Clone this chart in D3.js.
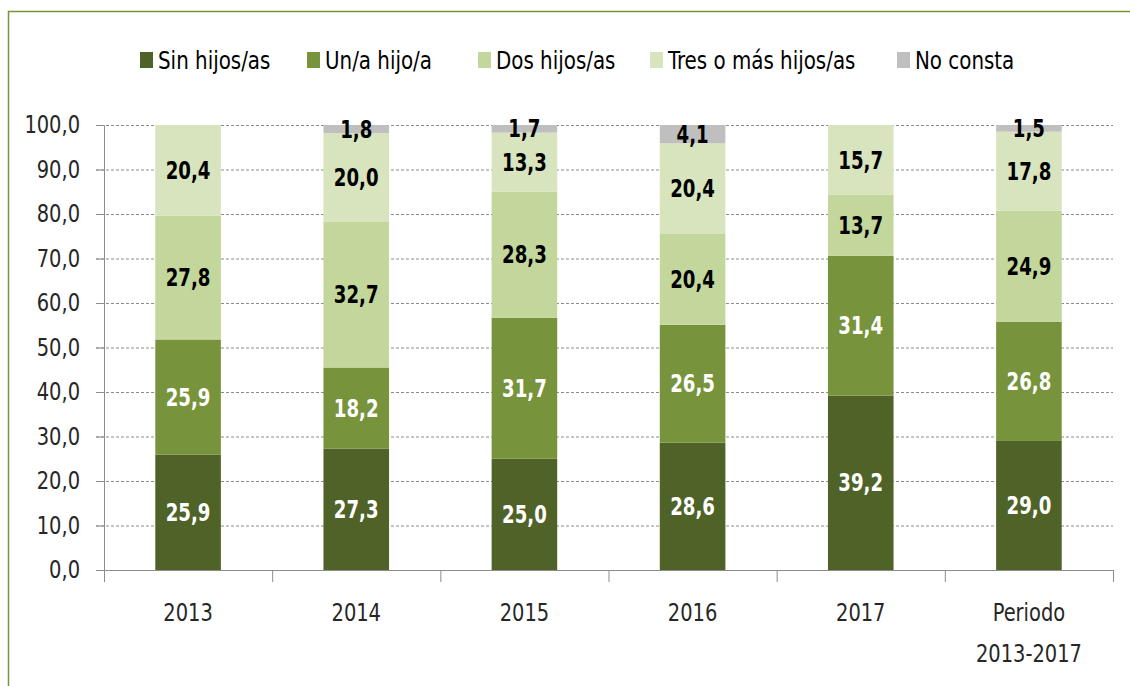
<!DOCTYPE html>
<html>
<head>
<meta charset="utf-8">
<script src="https://cdn.jsdelivr.net/npm/d3@7"></script>
<style>
  body { margin: 0; background: #fff; }
  svg { display: block; font-family: "DejaVu Sans Condensed", "DejaVu Sans", sans-serif; }
</style>
</head>
<body>
<svg width="1130" height="686"></svg>
<script>
const categories = ["2013", "2014", "2015", "2016", "2017", "Periodo\n2013-2017"];
const seriesNames = ["Sin hijos/as", "Un/a hijo/a", "Dos hijos/as", "Tres o más hijos/as", "No consta"];
const sinHijos = [25.9, 27.3, 25.0, 28.6, 39.2, 29.0];
const unHijo = [25.9, 18.2, 31.7, 26.5, 31.4, 26.8];
const dosHijos = [27.8, 32.7, 28.3, 20.4, 13.7, 24.9];
const tresMas = [20.4, 20.0, 13.3, 20.4, 15.7, 17.8];
const noConsta = [0, 1.8, 1.7, 4.1, 0, 1.5];
const yTicks = [0, 10, 20, 30, 40, 50, 60, 70, 80, 90, 100];

const colors = ["#4f6228", "#77933c", "#c3d69b", "#d7e4bd", "#bfbfbf"];
const labelColors = ["#fff", "#fff", "#000", "#000", "#000"];

// letra estrecha tipo Calibri: se comprime en horizontal
function squeeze(sel, k) {
  sel.each(function () {
    const w = this.getComputedTextLength();
    d3.select(this).attr("textLength", w * k).attr("lengthAdjust", "spacingAndGlyphs");
  });
}

const rows = categories.map((c, i) => ({
  cat: c,
  s0: sinHijos[i], s1: unHijo[i], s2: dosHijos[i], s3: tresMas[i], s4: noConsta[i]
}));
const keys = ["s0", "s1", "s2", "s3", "s4"];
const stacked = d3.stack().keys(keys)(rows);

const svg = d3.select("svg");

// marco
svg.append("path")
  .attr("d", "M8.5,686 V11.5 H1130")
  .attr("fill", "none")
  .attr("stroke", "#77933c")
  .attr("stroke-width", 1.5);

const plotLeft = 104, plotRight = 1113, plotTop = 125, plotBottom = 570;

const x = d3.scaleBand().domain(categories).range([plotLeft, plotRight]).paddingInner(0.61).paddingOuter(0.305);
const y = d3.scaleLinear().domain([0, 100]).range([plotBottom, plotTop]);

// rejilla
svg.append("g")
  .selectAll("line")
  .data(yTicks.filter(d => d > 0))
  .join("line")
  .attr("x1", plotLeft - 8).attr("x2", plotRight)
  .attr("y1", d => y(d) + 0.5).attr("y2", d => y(d) + 0.5)
  .attr("stroke", "#8c8c8c")
  .attr("stroke-dasharray", "3,2")
  .attr("stroke-width", 1);

// eje Y
const yAxis = svg.append("g")
  .attr("transform", `translate(${plotLeft},0)`)
  .call(d3.axisLeft(y).tickValues(yTicks).tickSize(8).tickPadding(16)
    .tickFormat(d => d3.format(".1f")(d).replace(".", ",")));
yAxis.attr("font-family", null).attr("font-size", null);
yAxis.select(".domain").attr("stroke", "#8c8c8c");
yAxis.selectAll(".tick line").attr("stroke", "#8c8c8c");
yAxis.selectAll(".tick text").attr("font-size", 24).attr("fill", "#262626").call(squeeze, 0.9);

// barras
const layers = svg.append("g")
  .selectAll("g")
  .data(stacked)
  .join("g")
  .attr("fill", (d, i) => colors[i]);

layers.selectAll("rect")
  .data(d => d)
  .join("rect")
  .attr("x", d => x(d.data.cat))
  .attr("width", x.bandwidth())
  .attr("y", d => y(d[1]))
  .attr("height", d => y(d[0]) - y(d[1]));

// etiquetas
svg.append("g")
  .selectAll("g")
  .data(stacked)
  .join("g")
  .attr("fill", (d, i) => labelColors[i])
  .selectAll("text")
  .data(d => d.filter(p => p[1] - p[0] > 0))
  .join("text")
  .attr("x", d => x(d.data.cat) + x.bandwidth() / 2)
  .attr("y", d => y((d[0] + d[1]) / 2))
  .attr("dy", "0.36em")
  .attr("text-anchor", "middle")
  .attr("font-size", 24)
  .attr("font-weight", "bold")
  .text(d => d3.format(".1f")(d[1] - d[0]).replace(".", ","))
  .call(squeeze, 0.84);

// eje X
const xAxisG = svg.append("g").attr("transform", `translate(0,${plotBottom})`);
xAxisG.append("line")
  .attr("x1", plotLeft - 8).attr("x2", plotRight)
  .attr("y1", 0.5).attr("y2", 0.5)
  .attr("stroke", "#8c8c8c");
const step = (plotRight - plotLeft) / categories.length;
xAxisG.selectAll(".sep")
  .data(d3.range(categories.length + 1))
  .join("line")
  .attr("x1", i => plotLeft + i * step + 0.5).attr("x2", i => plotLeft + i * step + 0.5)
  .attr("y1", 0).attr("y2", 12)
  .attr("stroke", "#8c8c8c");
const xLines = categories.flatMap(c => c.split("\n").map((t, j) => ({ cat: c, t, j })));
xAxisG.selectAll(".lab")
  .data(xLines)
  .join("text")
  .attr("x", d => x(d.cat) + x.bandwidth() / 2)
  .attr("y", d => 42 + d.j * 41)
  .attr("dy", "0.36em")
  .attr("text-anchor", "middle")
  .attr("font-size", 24)
  .attr("fill", "#262626")
  .text(d => d.t)
  .call(squeeze, 0.9);

// leyenda
const legendX = [140, 307, 478, 650, 897];
const legend = svg.append("g")
  .selectAll("g")
  .data(seriesNames)
  .join("g")
  .attr("transform", (d, i) => `translate(${legendX[i]},52)`);
legend.append("rect")
  .attr("width", 13).attr("height", 16)
  .attr("fill", (d, i) => colors[i]);
legend.append("text")
  .attr("x", 18).attr("y", 8).attr("dy", "0.36em")
  .attr("font-size", 24)
  .attr("fill", "#000")
  .text(d => d)
  .call(squeeze, 0.92);
</script>
</body>
</html>
